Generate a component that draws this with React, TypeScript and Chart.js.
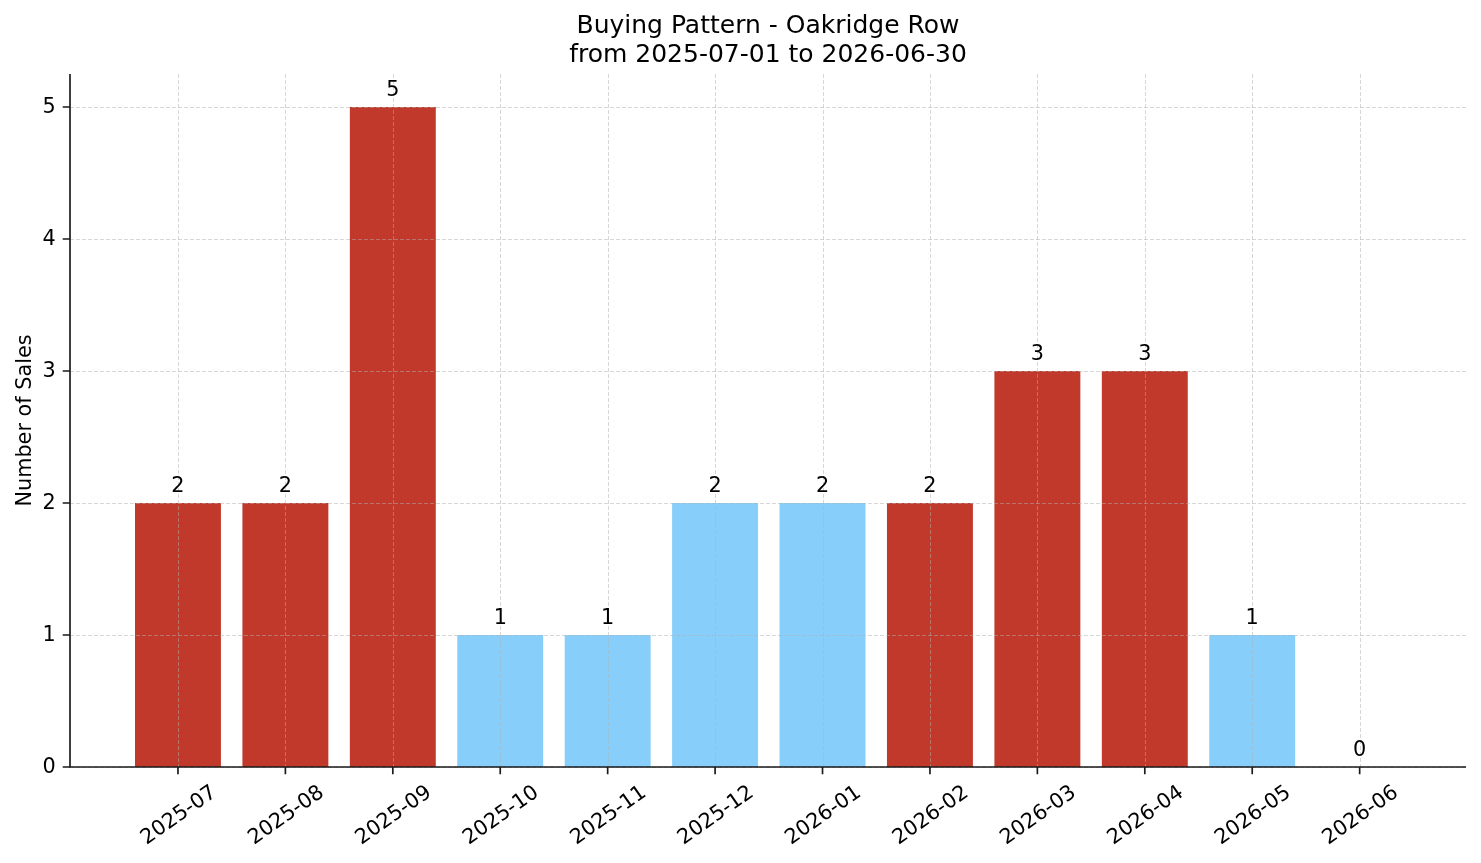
import React, { useEffect, useRef } from "react";
import { Chart, registerables } from "chart.js";

Chart.register(...registerables);

const months = [
  "2025-07", "2025-08", "2025-09", "2025-10", "2025-11", "2025-12",
  "2026-01", "2026-02", "2026-03", "2026-04", "2026-05", "2026-06",
];
const sales = [2, 2, 5, 1, 1, 2, 2, 2, 3, 3, 1, 0];
const highlight = [true, true, true, false, false, false, false, true, true, true, false, false];
const yTicks = [0, 1, 2, 3, 4, 5];
const titleLines = ["Buying Pattern - Oakridge Row", "from 2025-07-01 to 2026-06-30"];
const yAxisTitle = "Number of Sales";

const RED = "#c0392b";
const BLUE = "#87cefa";
const FONT = '"DejaVu Sans", Verdana, sans-serif';

const overlay = {
  id: "mplOverlay",
  afterDatasetsDraw(chart: any) {
    const ctx = chart.ctx as CanvasRenderingContext2D;
    const xs = chart.scales.x;
    const ys = chart.scales.y;
    const area = chart.chartArea;
    ctx.save();

    // grid
    ctx.strokeStyle = "rgba(176,176,176,0.5)";
    ctx.lineWidth = 1;
    ctx.setLineDash([4, 2]);
    months.forEach((_, i) => {
      const px = Math.round(xs.getPixelForValue(i)) + 0.5;
      ctx.beginPath();
      ctx.moveTo(px, area.top);
      ctx.lineTo(px, area.bottom);
      ctx.stroke();
    });
    yTicks.forEach((t) => {
      const py = Math.round(ys.getPixelForValue(t)) + 0.5;
      ctx.beginPath();
      ctx.moveTo(area.left, py);
      ctx.lineTo(area.right, py);
      ctx.stroke();
    });
    ctx.setLineDash([]);

    // spines
    ctx.strokeStyle = "#1a1a1a";
    ctx.lineWidth = 1.67;
    ctx.beginPath();
    ctx.moveTo(area.left, area.top);
    ctx.lineTo(area.left, area.bottom);
    ctx.lineTo(area.right, area.bottom);
    ctx.stroke();

    // ticks
    const tl = 7.3;
    ctx.beginPath();
    yTicks.forEach((t) => {
      const py = ys.getPixelForValue(t);
      ctx.moveTo(area.left, py);
      ctx.lineTo(area.left - tl, py);
    });
    months.forEach((_, i) => {
      const px = xs.getPixelForValue(i);
      ctx.moveTo(px, area.bottom);
      ctx.lineTo(px, area.bottom + tl);
    });
    ctx.stroke();

    // y tick labels
    ctx.fillStyle = "#000";
    ctx.font = `20.8px ${FONT}`;
    ctx.textAlign = "right";
    ctx.textBaseline = "middle";
    yTicks.forEach((t) => {
      ctx.fillText(String(t), area.left - tl - 7, ys.getPixelForValue(t) + 1);
    });

    // x tick labels rotated 35deg, centred bbox like matplotlib
    const ang = (35 * Math.PI) / 180;
    const h = 24;
    months.forEach((m, i) => {
      const w = ctx.measureText(m).width;
      const bboxH = w * Math.sin(ang) + h * Math.cos(ang);
      const cx = xs.getPixelForValue(i) + 1;
      const cy = area.bottom + tl + 6.5 + bboxH / 2;
      ctx.save();
      ctx.translate(cx, cy);
      ctx.rotate(-ang);
      ctx.textAlign = "center";
      ctx.textBaseline = "middle";
      ctx.fillText(m, 0, 0);
      ctx.restore();
    });

    // value labels
    ctx.textAlign = "center";
    ctx.textBaseline = "alphabetic";
    sales.forEach((v, i) => {
      ctx.fillText(String(v), xs.getPixelForValue(i), ys.getPixelForValue(v) - 11.5);
    });

    // y axis title
    ctx.save();
    ctx.translate(31, (area.top + area.bottom) / 2);
    ctx.rotate(-Math.PI / 2);
    ctx.textAlign = "center";
    ctx.textBaseline = "alphabetic";
    ctx.fillText(yAxisTitle, 0, 0);
    ctx.restore();

    // title
    ctx.font = `25px ${FONT}`;
    ctx.textAlign = "center";
    ctx.textBaseline = "alphabetic";
    const tx = (area.left + area.right) / 2;
    ctx.fillText(titleLines[0], tx, 33);
    ctx.fillText(titleLines[1], tx, 62);

    ctx.restore();
  },
};

export default function App() {
  const ref = useRef<HTMLCanvasElement | null>(null);
  useEffect(() => {
    if (!ref.current) return;
    const chart = new Chart(ref.current, {
      type: "bar",
      data: {
        datasets: [
          {
            data: sales.map((v, i) => ({ x: i, y: v })),
            backgroundColor: highlight.map((h) => (h ? RED : BLUE)),
            barPercentage: 0.8,
            categoryPercentage: 1,
            borderWidth: 0,
          },
        ],
      },
      options: {
        animation: false,
        responsive: false,
        devicePixelRatio: 1,
        layout: { padding: { left: 70, top: 74, right: 15, bottom: 96 } },
        plugins: { legend: { display: false }, title: { display: false }, tooltip: { enabled: false } },
        scales: {
          x: { type: "linear", min: -1.005, max: 11.99, display: false, offset: false },
          y: { type: "linear", min: 0, max: 5.25, display: false },
        },
      },
      plugins: [overlay],
    });
    return () => chart.destroy();
  }, []);
  return (
    <div style={{ position: "fixed", left: 0, top: 0, width: 1481, height: 863, background: "#fff" }}>
      <canvas ref={ref} width={1481} height={863} style={{ width: 1481, height: 863, display: "block" }} />
    </div>
  );
}
